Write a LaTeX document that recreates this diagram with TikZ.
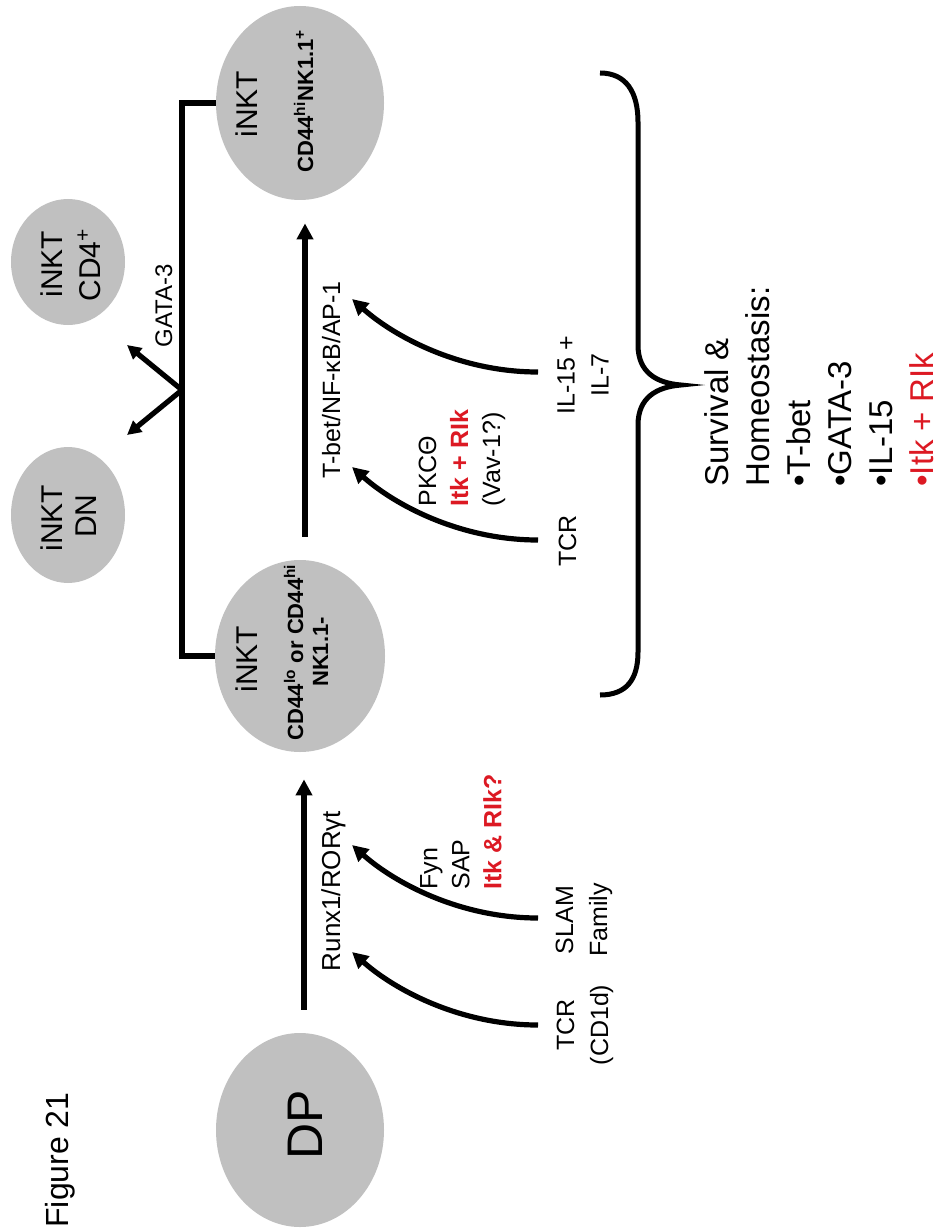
\documentclass[tikz,border=0pt]{standalone}
\usepackage{fontspec}
\setmainfont{Liberation Sans}
\usetikzlibrary{arrows.meta,shapes.geometric}
\definecolor{cellgray}{RGB}{192,192,192}
\definecolor{hired}{RGB}{220,25,35}
\begin{document}
\begin{tikzpicture}[x=0.5pt,y=-0.5pt,
  cell/.style={ellipse,fill=cellgray,inner sep=0,draw=none},
  arr/.style={line width=2.8pt,-{Triangle[length=8pt,width=8pt]}},
  varr/.style={line width=2.6pt,-{Triangle[length=7pt,width=7pt]}},
  carr/.style={line width=2.6pt,-{Triangle[length=8pt,width=8pt]}},
  conn/.style={line width=2.8pt},
  brace/.style={line width=2.5pt},
  rt/.style={rotate=90,inner sep=0},
  lbl/.style={rt,font=\fontsize{12.5}{17}\selectfont},
  lbltight/.style={rt,font=\fontsize{12.5}{16}\selectfont},
  celltxt/.style={rt,font=\fontsize{15}{18}\selectfont,anchor=base},
  cellsub/.style={rt,font=\fontsize{11}{13}\selectfont\bfseries,anchor=base},
  survtxt/.style={rt,font=\fontsize{16.5}{20.5}\selectfont,align=left,anchor=west}
]
\path[use as bounding box] (0,0) rectangle (938,1230);

% cells
\node[cell,minimum width=84pt,minimum height=97pt] (dp) at (300,1130) {};
\node[cell,minimum width=85pt,minimum height=96pt] (nkt1) at (300,656) {};
\node[cell,minimum width=84pt,minimum height=97pt] (nkt2) at (300,103) {};
\node[cell,minimum width=57pt,minimum height=68pt] (dn) at (68,515) {};
\node[cell,minimum width=57pt,minimum height=63pt] (cd4) at (68,262) {};

% cell texts
\node[rt,font=\fontsize{16}{19}\selectfont,anchor=base] (fig) at (68,1160) {Figure 21};
\node[rt,font=\fontsize{25}{30}\selectfont,anchor=base] (dptxt) at (322,1125) {DP};
\node[celltxt] (nkt1a) at (257,659) {iNKT};
\node[cellsub] (nkt1b) at (303,652) {CD44\textsuperscript{lo} or CD44\textsuperscript{hi}};
\node[cellsub] (nkt1c) at (328,652) {NK1.1-};
\node[celltxt] (nkt2a) at (257,104) {iNKT};
\node[cellsub] (nkt2b) at (313,101) {CD44\textsuperscript{hi}NK1.1\textsuperscript{+}};
\node[celltxt] (dna) at (62,518) {iNKT};
\node[celltxt] (dnb) at (96,516) {DN};
\node[celltxt] (cd4a) at (62,264) {iNKT};
\node[celltxt] (cd4b) at (100,265) {CD4\textsuperscript{+}};

% main arrows
\draw[arr] ([shift={(4,-23)}]dp.north) -- ([shift={(4,27)}]nkt1.south);
\draw[arr] ([shift={(5,-23)}]nkt1.north) -- ([shift={(5,23)}]nkt2.south);
\node[lbl,font=\fontsize{13}{17}\selectfont,anchor=base] (runx) at (340,891) {Runx1/RORγt};
\node[lbl,anchor=base] (tbet) at (340,380) {T-bet/NF-κB/AP-1};

% branching connector
\coordinate (apex) at (182,390);
\coordinate (tipcd4) at (127,345);
\coordinate (tipdn) at (127,435);
\draw[conn] (nkt2.west) -- (nkt2.west -| apex) -- (nkt1.west -| apex) -- (nkt1.west);
\draw[varr] (apex) -- (tipcd4);
\draw[varr] (apex) -- (tipdn);
\node[rt,font=\fontsize{12}{15}\selectfont,anchor=base] (gata) at (172,306) {GATA-3};

% curved signal arrows
\coordinate (c1s) at (538,1025); \coordinate (c1e) at (352,952);
\coordinate (c2s) at (538,918);  \coordinate (c2e) at (352,845);
\coordinate (c3s) at (538,540);  \coordinate (c3e) at (352,467);
\coordinate (c4s) at (538,372);  \coordinate (c4e) at (352,299);
\draw[carr] (c1s) .. controls +(-78,0) and +(43,38) .. (c1e);
\draw[carr] (c2s) .. controls +(-78,0) and +(43,38) .. (c2e);
\draw[carr] (c3s) .. controls +(-78,0) and +(43,38) .. (c3e);
\draw[carr] (c4s) .. controls +(-78,0) and +(43,38) .. (c4e);

% signal labels
\node[lbl,align=center] (tcr1) at (585,1025) {TCR\\(CD1d)};
\node[lbl,align=center] (slam) at (584,920) {SLAM\\Family};
\node[lbltight,align=left,anchor=west] (fyn) at (461,890) {Fyn\\SAP\\\textcolor{hired}{\textbf{Itk \& RIk?}}};
\node[lbl,anchor=base] (tcr2) at (576,541) {TCR};
\node[lbl,align=center] (il) at (583,375) {IL-15 +\\IL-7};
\node[lbltight,align=left,anchor=west] (pkc) at (462,507) {PKCΘ\\\textcolor{hired}{\textbf{Itk + RIk}}\\(Vav-1?)};

% brace
\draw[brace] (600,73) .. controls (626,73) and (638,92) .. (638,122) -- (638,345)
  .. controls (638,372) and (656,383) .. (681,385)
  .. controls (656,387) and (638,398) .. (638,425) -- (638,652)
  .. controls (638,680) and (626,695) .. (600,695);

% survival text
\node[survtxt] (surv) at (819,487) {Survival \&\\Homeostasis:\\•T-bet\\•GATA-3\\•IL-15\\\textcolor{hired}{•Itk + RIk}};
\end{tikzpicture}
\end{document}
